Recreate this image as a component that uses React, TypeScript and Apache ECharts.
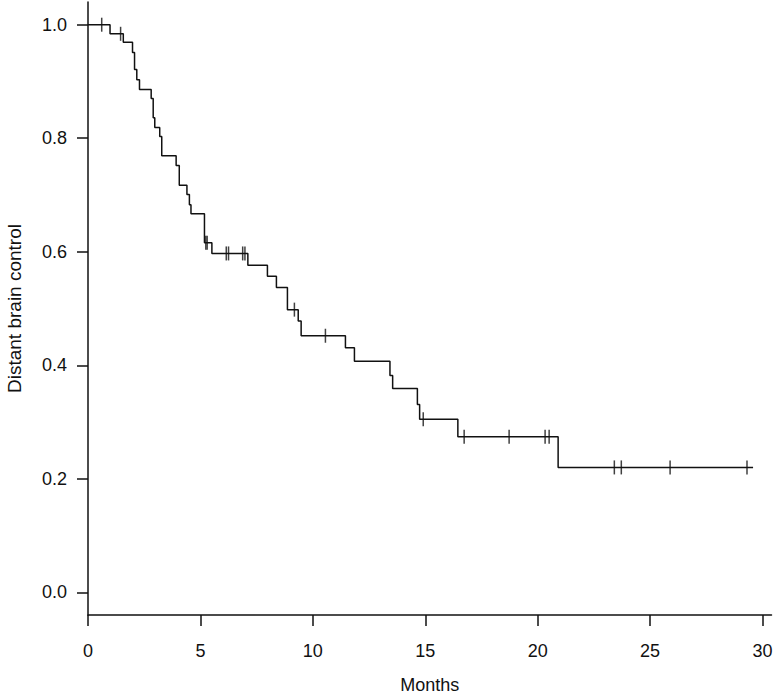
import React, { useEffect, useRef } from "react";
import * as echarts from "echarts";

// Kaplan-Meier step curve: event times (months) and survival after each event
const eventTimes = [0, 0.98, 1.57, 1.98, 2.07, 2.17, 2.29, 2.81, 2.9, 2.97, 3.19, 3.28, 3.92, 4.06, 4.4, 4.51, 4.58, 5.18, 5.51, 7.11, 7.98, 8.38, 8.87, 9.35, 9.48, 11.45, 11.85, 13.43, 13.55, 14.65, 14.75, 16.45, 20.91, 29.58];
const survival = [1.0, 0.984, 0.969, 0.951, 0.921, 0.903, 0.886, 0.87, 0.836, 0.819, 0.803, 0.769, 0.752, 0.717, 0.701, 0.683, 0.667, 0.616, 0.597, 0.576, 0.557, 0.537, 0.498, 0.478, 0.452, 0.431, 0.407, 0.382, 0.359, 0.331, 0.305, 0.274, 0.22, 0.22];

// Censored observations
const censorTimes = [0.61, 1.45, 5.24, 5.3, 6.15, 6.25, 6.88, 6.98, 9.18, 10.56, 14.91, 16.73, 18.73, 20.33, 20.51, 23.41, 23.72, 25.89, 29.31];
const censorLevels = [1.0, 0.984, 0.616, 0.616, 0.597, 0.597, 0.597, 0.597, 0.498, 0.452, 0.305, 0.274, 0.274, 0.274, 0.274, 0.22, 0.22, 0.22, 0.22];

const xTicks = [0, 5, 10, 15, 20, 25, 30];
const yTicks = [0, 0.2, 0.4, 0.6, 0.8, 1.0];

const xLabel = "Months";
const yLabel = "Distant brain control";

export default function App() {
  const ref = useRef<HTMLDivElement>(null);

  useEffect(() => {
    if (!ref.current) return;
    const chart = echarts.init(ref.current, null, { renderer: "svg" });
    const ink = "#111";
    const font = "Liberation Sans, Arial, sans-serif";
    chart.setOption({
      animation: false,
      backgroundColor: "#fff",
      grid: { left: 88, top: 2, right: 2.5, bottom: 81, containLabel: false, outerBoundsMode: "none" },
      xAxis: {
        type: "value",
        min: 0,
        max: 30.4,
        name: xLabel,
        nameLocation: "middle",
        nameGap: 61,
        nameTextStyle: { color: ink, fontSize: 18, fontFamily: font },
        axisLine: { show: true, onZero: false, lineStyle: { color: ink, width: 1.5 } },
        axisTick: { show: true, length: 11, customValues: xTicks, lineStyle: { color: ink, width: 1.5 } },
        axisLabel: { customValues: xTicks, margin: 27, color: ink, fontSize: 18, fontFamily: font, formatter: (v: number) => String(v) },
        splitLine: { show: false },
      },
      yAxis: {
        type: "value",
        min: -0.04,
        max: 1.04,
        name: yLabel,
        nameLocation: "middle",
        nameGap: 64,
        nameRotate: 90,
        nameTextStyle: { color: ink, fontSize: 19, fontFamily: font },
        axisLine: { show: true, onZero: false, lineStyle: { color: ink, width: 1.5 } },
        axisTick: { show: true, length: 11, customValues: yTicks, lineStyle: { color: ink, width: 1.5 } },
        axisLabel: { customValues: yTicks, margin: 21, color: ink, fontSize: 18, fontFamily: font, formatter: (v: number) => v.toFixed(1) },
        splitLine: { show: false },
      },
      series: [
        {
          type: "line",
          step: "end",
          showSymbol: false,
          symbol: "none",
          data: eventTimes.map((t, i) => [t, survival[i]]),
          lineStyle: { color: ink, width: 1.5 },
          silent: true,
        },
        {
          type: "scatter",
          symbol: "rect",
          symbolSize: [1.5, 14],
          data: censorTimes.map((t, i) => [t, censorLevels[i]]),
          itemStyle: { color: ink },
          silent: true,
        },
      ],
    });
    return () => chart.dispose();
  }, []);

  return <div ref={ref} style={{ width: 774, height: 696, position: "absolute", left: 0, top: 0 }} />;
}
